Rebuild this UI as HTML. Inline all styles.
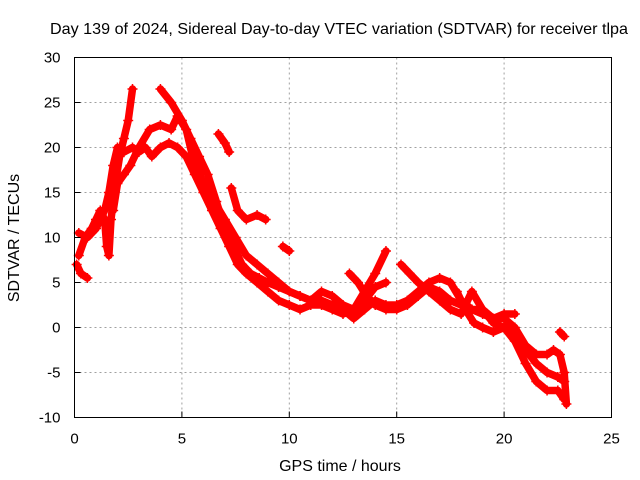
<!DOCTYPE html>
<html><head><meta charset="utf-8"><style>
body{margin:0;background:#fff;}
svg{display:block;font-family:"Liberation Sans",sans-serif;}
</style></head><body>
<svg width="640" height="480" viewBox="0 0 640 480">
<rect width="640" height="480" fill="#fff"/>
<text x="339" y="34" font-size="16" text-anchor="middle" textLength="578" lengthAdjust="spacingAndGlyphs">Day 139 of 2024, Sidereal Day-to-day VTEC variation (SDTVAR) for receiver tlpa</text>
<g id="grid"></g>
<g id="series"></g>
<rect x="74.5" y="57.5" width="537" height="360" fill="none" stroke="#000" stroke-width="1"/>
<g id="ticks"></g>
<text x="340" y="471" font-size="16" text-anchor="middle">GPS time / hours</text>
<text x="19" y="238" font-size="16" text-anchor="middle" transform="rotate(-90 19 238)">SDTVAR / TECUs</text>
</svg>
<script>
const xTicks=[0,5,10,15,20,25];
const yTicks=[-10,-5,0,5,10,15,20,25,30];
const trackA=[[0.1,7],[0.3,6],[0.6,5.5]];
const trackB=[[0.2,8],[0.5,10],[0.8,11],[1.0,12],[1.2,13],[1.4,12],[1.5,9],[1.6,8],[1.7,12],[1.9,16],[2.1,19],[2.3,21],[2.5,23],[2.7,26.5]];
const trackC=[[0.2,10.5],[0.6,10],[1.0,11],[1.4,13],[1.6,15],[1.8,18],[2.0,20],[2.3,19.5],[2.7,20],[3.0,19.5],[3.3,20],[3.6,19],[4.0,20],[4.4,20.5],[4.8,20],[5.2,19],[5.6,17],[6.0,15],[6.4,13],[6.8,11],[7.2,9],[7.6,7],[8.0,6],[8.5,5],[9.0,4],[9.5,3],[10,2.5],[10.5,2],[11,2.5],[11.5,2.5],[12,2],[12.5,1.5],[13,2],[13.5,3],[14,4.5],[14.5,5]];
const trackD=[[1.8,13],[2.0,16],[2.3,17],[2.6,18],[3.0,20],[3.5,22],[4.0,22.5],[4.5,22],[4.8,23.5],[5.2,22],[5.5,19],[6.0,16],[6.5,14],[7.0,12],[7.5,10],[8.0,8],[8.5,7],[9,6],[9.5,5],[10,4],[10.5,3.5],[11,3],[11.5,3],[12,2.5],[12.5,2],[13,1],[13.5,2],[14,3],[14.5,2.5],[15,2.5],[15.5,3],[16,4],[16.5,5],[17,5.5],[17.5,5],[18,3],[18.5,2],[19,1.5],[19.5,1],[20,1.5],[20.5,1.5]];
const trackE=[[4.0,26.5],[4.5,25],[5,23],[5.4,21],[5.8,19],[6.2,17],[6.6,14],[7,11],[7.4,9],[7.8,7],[8.2,6],[8.6,5.5],[9,5],[9.5,4.5],[10,4],[10.5,3.5],[11,3],[11.5,4],[12,3.5],[12.5,2.5],[13,2],[13.5,4],[14,6],[14.5,8.5]];
const trackF=[[6.7,21.5],[7.0,20.5],[7.2,19.5]];
const trackG=[[7.3,15.5],[7.6,13],[8,12],[8.5,12.5],[8.9,12]];
const trackH=[[9.7,9],[10.0,8.5]];
const trackI=[[12.8,6],[13.2,5],[13.6,3.5],[14,2.5],[14.5,2],[15,2],[15.5,2.5],[16,3.5],[16.5,4.5],[17,4],[17.5,3],[18,2.5],[18.5,2],[19,2],[19.5,0.5],[20,0],[20.5,-1],[21,-2.5],[21.5,-4],[22,-5],[22.5,-5.5],[22.8,-6]];
const trackJ=[[15.2,7],[15.6,6],[16,5],[16.5,4],[17,3],[17.5,2],[18,1.5],[18.5,4],[19,2],[19.5,1],[20,1],[20.5,0],[21,-2],[21.5,-3],[22,-3],[22.3,-2.5],[22.6,-3],[22.8,-5],[22.9,-8.5]];
const trackK=[[17.8,4],[18.2,2],[18.6,0.5],[19,0],[19.5,-0.5],[20,0],[20.5,-1.5],[21,-4],[21.5,-6],[22,-7],[22.5,-7],[22.8,-8]];
const trackL=[[22.6,-0.5],[22.8,-1]];
const tracks=[trackA,trackB,trackC,trackD,trackE,trackF,trackG,trackH,trackI,trackJ,trackK,trackL];
const NS='http://www.w3.org/2000/svg';
const X0=74.5,X1=611.5,Y0=417.5,Y1=57.5;
function xs(v){return X0+(v-0)/(25-0)*(X1-X0);}
function ys(v){return Y0-(v+10)/(40)*(Y0-Y1);}
const grid=document.getElementById('grid'),ticks=document.getElementById('ticks'),ser=document.getElementById('series');
function mk(t,a,p){const e=document.createElementNS(NS,t);for(const k in a)e.setAttribute(k,a[k]);p.appendChild(e);return e;}
xTicks.forEach(v=>{const x=xs(v);
 if(v>0&&v<25){const g=mk('line',{x1:x,x2:x,y1:Y1,y2:Y0,stroke:'#a0a0a0','stroke-dasharray':'2,3'},grid);
 
 }
 const t=mk('line',{x1:x,x2:x,y1:Y0,y2:Y0-6,stroke:'#000'},ticks);
 
 
 const l=mk('text',{x:x,y:Y0+26,'font-size':15,'text-anchor':'middle'},ticks);l.textContent=v;
 
 
});
yTicks.forEach(v=>{const y=ys(v);
 if(v>-10&&v<30){const g=mk('line',{x1:X0,x2:X1,y1:y,y2:y,stroke:'#a0a0a0','stroke-dasharray':'2,3'},grid);
 
 }
 const t=mk('line',{x1:X0,x2:X0+6,y1:y,y2:y,stroke:'#000'},ticks);
 
 
 const l=mk('text',{x:X0-14,y:y+5,'font-size':15,'text-anchor':'end'},ticks);l.textContent=v;
 
 
});
tracks.forEach(tr=>{
 const d=tr.map((p,i)=>(i?'L':'M')+xs(p[0]).toFixed(1)+','+ys(p[1]).toFixed(1)).join(' ');
 const pa=mk('path',{d:d,fill:'none',stroke:'#ff0000','stroke-width':7.5,'stroke-linejoin':'round','stroke-linecap':'round'},ser);
 
 
 tr.forEach(p=>{const x=xs(p[0]),y=ys(p[1]);
  const m=mk('path',{d:`M${x-5},${y}H${x+5}M${x},${y-5}V${y+5}`,stroke:'#ff0000','stroke-width':1.5},ser);
  
  
 });
});
</script>
</body></html>
